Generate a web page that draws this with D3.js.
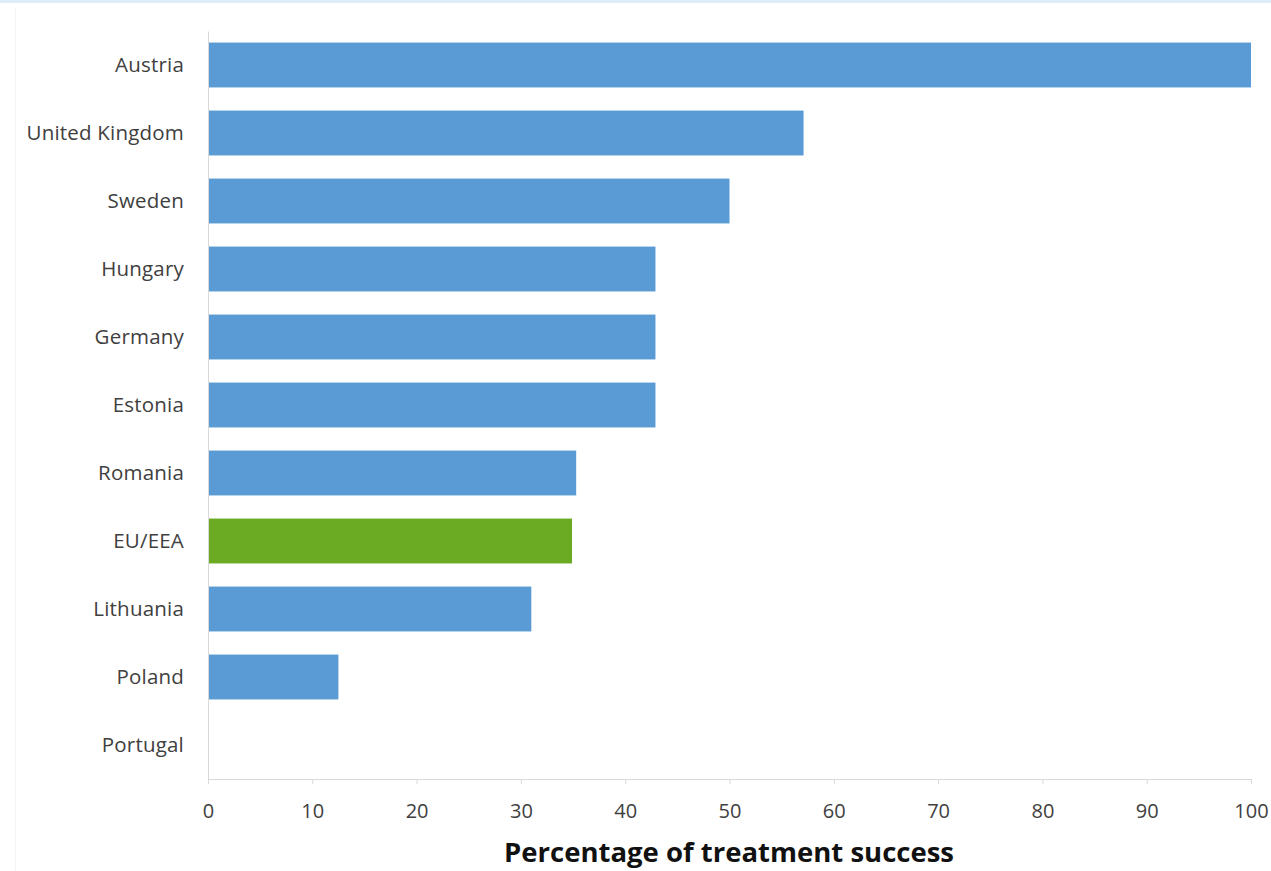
<!DOCTYPE html>
<html><head><meta charset="utf-8">
<script src="https://cdn.jsdelivr.net/npm/d3@7"></script>
<style>body{margin:0;background:#fff}svg{display:block}</style>
</head><body>
<script>
const categories = ["Austria","United Kingdom","Sweden","Hungary","Germany","Estonia","Romania","EU/EEA","Lithuania","Poland","Portugal"];
const values = [100, 57.1, 50, 42.9, 42.9, 42.9, 35.3, 34.9, 31.0, 12.5, 0];
const highlight = ["EU/EEA"];
const xTicks = [0,10,20,30,40,50,60,70,80,90,100];
const xTitle = "Percentage of treatment success";

const W = 1271, H = 871;
const svg = d3.select("body").append("svg").attr("width", W).attr("height", H);
svg.append("rect").attr("x",0).attr("y",0).attr("width",W).attr("height",3).attr("fill","#dcedf7");
svg.append("line").attr("x1",15.5).attr("x2",15.5).attr("y1",8).attr("y2",871).attr("stroke","#f4f4f4");

const x = d3.scaleLinear().domain([0,100]).range([208,1251]);
const y = d3.scaleBand().domain(categories).range([31,779]).paddingInner(0.34).paddingOuter(0.17);

const font = "'Open Sans', 'Noto Sans', sans-serif";

svg.append("g").selectAll("rect").data(categories).join("rect")
  .attr("x", x(0)).attr("y", d => y(d))
  .attr("width", (d,i) => x(values[i]) - x(0))
  .attr("height", y.bandwidth())
  .attr("fill", d => highlight.includes(d) ? "#6aab23" : "#5b9bd5");

// y axis
const ya = svg.append("g").attr("transform", `translate(${x(0)},0)`).call(d3.axisLeft(y).tickSize(0).tickPadding(24));
ya.select(".domain").attr("stroke","#d9d9d9");
ya.selectAll("text").attr("font-family", font).attr("font-size", 20.5).attr("fill","#404040").attr("letter-spacing", 0.2);

// x axis
const xa = svg.append("g").attr("transform", `translate(0,779)`).call(d3.axisBottom(x).tickValues(xTicks).tickSize(5).tickPadding(20));
xa.select(".domain").attr("stroke","#d9d9d9").attr("d", `M${x(0)},0.5H${x(100)}`);
xa.selectAll(".tick line").attr("stroke","#d9d9d9");
xa.selectAll("text").attr("font-family", font).attr("font-size", 20).attr("fill","#404040");

svg.append("text").attr("x", 729).attr("y", 862).attr("text-anchor","middle")
  .attr("font-family", font).attr("font-weight","bold").attr("font-size", 27.5).attr("fill","#111")
  .text(xTitle);
</script>
</body></html>
